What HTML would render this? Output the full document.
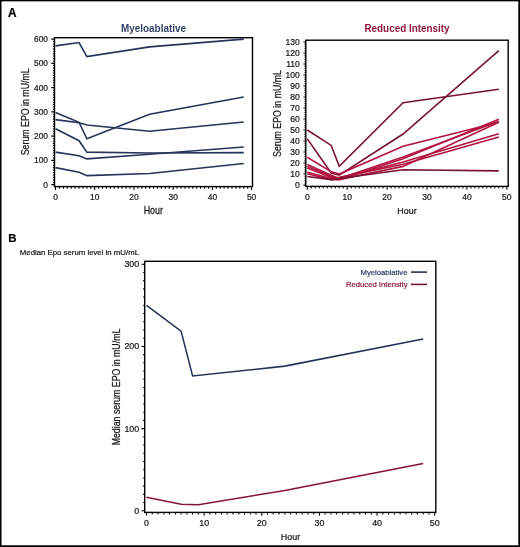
<!DOCTYPE html>
<html><head><meta charset="utf-8"><title>EPO</title>
<style>
html,body{margin:0;padding:0;background:#fff;}
body{width:520px;height:547px;overflow:hidden;}
svg{display:block;font-family:"Liberation Sans", sans-serif;will-change:transform;}
text{stroke-width:0.22px;}
</style></head>
<body>
<svg width="520" height="547" viewBox="0 0 520 547">
<rect width="520" height="547" fill="#fff"/>
<text transform="translate(8 16.8) scale(1 1.1)" font-size="11.8" font-weight="bold" fill="#000" stroke="#000" stroke-width="0.35">A</text>
<rect x="54.5" y="37.7" width="198" height="148.9" fill="none" stroke="#000" stroke-width="1.4"/>
<path d="M51.3 184.6H54.5M52.9 182.17H54.5M52.9 179.75H54.5M52.9 177.32H54.5M52.9 174.9H54.5M52.9 172.47H54.5M52.9 170.05H54.5M52.9 167.62H54.5M52.9 165.2H54.5M52.9 162.78H54.5M51.3 160.35H54.5M52.9 157.92H54.5M52.9 155.5H54.5M52.9 153.07H54.5M52.9 150.65H54.5M52.9 148.22H54.5M52.9 145.8H54.5M52.9 143.38H54.5M52.9 140.95H54.5M52.9 138.53H54.5M51.3 136.1H54.5M52.9 133.68H54.5M52.9 131.25H54.5M52.9 128.82H54.5M52.9 126.4H54.5M52.9 123.97H54.5M52.9 121.55H54.5M52.9 119.12H54.5M52.9 116.7H54.5M52.9 114.27H54.5M51.3 111.85H54.5M52.9 109.42H54.5M52.9 107H54.5M52.9 104.58H54.5M52.9 102.15H54.5M52.9 99.72H54.5M52.9 97.3H54.5M52.9 94.88H54.5M52.9 92.45H54.5M52.9 90.02H54.5M51.3 87.6H54.5M52.9 85.17H54.5M52.9 82.75H54.5M52.9 80.33H54.5M52.9 77.9H54.5M52.9 75.47H54.5M52.9 73.05H54.5M52.9 70.62H54.5M52.9 68.2H54.5M52.9 65.77H54.5M51.3 63.35H54.5M52.9 60.92H54.5M52.9 58.5H54.5M52.9 56.07H54.5M52.9 53.65H54.5M52.9 51.22H54.5M52.9 48.8H54.5M52.9 46.38H54.5M52.9 43.95H54.5M52.9 41.53H54.5M51.3 39.1H54.5M55.5 186.6V190M59.42 186.6V188.8M63.34 186.6V188.8M67.27 186.6V188.8M71.19 186.6V188.8M75.11 186.6V188.8M79.03 186.6V188.8M82.95 186.6V188.8M86.88 186.6V188.8M90.8 186.6V188.8M94.72 186.6V190M98.64 186.6V188.8M102.56 186.6V188.8M106.49 186.6V188.8M110.41 186.6V188.8M114.33 186.6V188.8M118.25 186.6V188.8M122.17 186.6V188.8M126.1 186.6V188.8M130.02 186.6V188.8M133.94 186.6V190M137.86 186.6V188.8M141.78 186.6V188.8M145.71 186.6V188.8M149.63 186.6V188.8M153.55 186.6V188.8M157.47 186.6V188.8M161.39 186.6V188.8M165.32 186.6V188.8M169.24 186.6V188.8M173.16 186.6V190M177.08 186.6V188.8M181 186.6V188.8M184.93 186.6V188.8M188.85 186.6V188.8M192.77 186.6V188.8M196.69 186.6V188.8M200.61 186.6V188.8M204.54 186.6V188.8M208.46 186.6V188.8M212.38 186.6V190M216.3 186.6V188.8M220.22 186.6V188.8M224.15 186.6V188.8M228.07 186.6V188.8M231.99 186.6V188.8M235.91 186.6V188.8M239.83 186.6V188.8M243.76 186.6V188.8M247.68 186.6V188.8M251.6 186.6V190" stroke="#000" stroke-width="1.05" fill="none"/>
<text transform="translate(48 187.62) scale(1 1)" text-anchor="end" font-size="8.4" fill="#1a1a1a" stroke="#1a1a1a">0</text>
<text transform="translate(48 163.37) scale(1 1)" text-anchor="end" font-size="8.4" fill="#1a1a1a" stroke="#1a1a1a">100</text>
<text transform="translate(48 139.12) scale(1 1)" text-anchor="end" font-size="8.4" fill="#1a1a1a" stroke="#1a1a1a">200</text>
<text transform="translate(48 114.87) scale(1 1)" text-anchor="end" font-size="8.4" fill="#1a1a1a" stroke="#1a1a1a">300</text>
<text transform="translate(48 90.62) scale(1 1)" text-anchor="end" font-size="8.4" fill="#1a1a1a" stroke="#1a1a1a">400</text>
<text transform="translate(48 66.37) scale(1 1)" text-anchor="end" font-size="8.4" fill="#1a1a1a" stroke="#1a1a1a">500</text>
<text transform="translate(48 42.12) scale(1 1)" text-anchor="end" font-size="8.4" fill="#1a1a1a" stroke="#1a1a1a">600</text>
<text transform="translate(55.5 200.4) scale(1 1)" text-anchor="middle" font-size="8.4" fill="#1a1a1a" stroke="#1a1a1a">0</text>
<text transform="translate(94.72 200.4) scale(1 1)" text-anchor="middle" font-size="8.4" fill="#1a1a1a" stroke="#1a1a1a">10</text>
<text transform="translate(133.94 200.4) scale(1 1)" text-anchor="middle" font-size="8.4" fill="#1a1a1a" stroke="#1a1a1a">20</text>
<text transform="translate(173.16 200.4) scale(1 1)" text-anchor="middle" font-size="8.4" fill="#1a1a1a" stroke="#1a1a1a">30</text>
<text transform="translate(212.38 200.4) scale(1 1)" text-anchor="middle" font-size="8.4" fill="#1a1a1a" stroke="#1a1a1a">40</text>
<text transform="translate(251.6 200.4) scale(1 1)" text-anchor="middle" font-size="8.4" fill="#1a1a1a" stroke="#1a1a1a">50</text>
<path d="M55.5 45.89 L79.03 42.5 L86.88 56.56 L149.63 46.86 L243.76 39.1" stroke="#26335a" stroke-width="1.6" fill="none" stroke-linejoin="miter" stroke-linecap="butt"/>
<path d="M55.5 112.58 L79.03 122.28 L86.88 138.77 L149.63 114.27 L243.76 97.06" stroke="#26335a" stroke-width="1.6" fill="none" stroke-linejoin="miter" stroke-linecap="butt"/>
<path d="M55.5 119.61 L79.03 122.76 L86.88 124.94 L149.63 131.25 L243.76 122.03" stroke="#26335a" stroke-width="1.6" fill="none" stroke-linejoin="miter" stroke-linecap="butt"/>
<path d="M55.5 128.82 L79.03 140.71 L86.88 152.1 L149.63 153.07 L243.76 152.59" stroke="#26335a" stroke-width="1.6" fill="none" stroke-linejoin="miter" stroke-linecap="butt"/>
<path d="M55.5 152.1 L79.03 155.74 L86.88 158.89 L149.63 154.29 L243.76 147.01" stroke="#26335a" stroke-width="1.6" fill="none" stroke-linejoin="miter" stroke-linecap="butt"/>
<path d="M55.5 167.62 L79.03 172.23 L86.88 175.63 L149.63 173.44 L243.76 163.5" stroke="#26335a" stroke-width="1.6" fill="none" stroke-linejoin="miter" stroke-linecap="butt"/>
<text transform="translate(153.5 31.5) scale(1 1.18)" text-anchor="middle" font-size="9.9" font-weight="bold" stroke="none" fill="#33416a">Myeloablative</text>
<text transform="translate(29.0 111.8) rotate(-90) scale(1 1.16)" text-anchor="middle" font-size="8.8" fill="#1a1a1a" stroke="#1a1a1a">Serum EPO in mU/mL</text>
<text transform="translate(153.3 213.7) scale(1 1.2)" text-anchor="middle" font-size="8.9" fill="#1a1a1a" stroke="#1a1a1a">Hour</text>
<rect x="305.8" y="40.2" width="202.4" height="146.2" fill="none" stroke="#000" stroke-width="1.4"/>
<path d="M303.4 185.1H305.8M304.5 182.9H305.8M304.5 180.69H305.8M304.5 178.49H305.8M304.5 176.29H305.8M303.4 174.08H305.8M304.5 171.88H305.8M304.5 169.68H305.8M304.5 167.48H305.8M304.5 165.27H305.8M303.4 163.07H305.8M304.5 160.87H305.8M304.5 158.66H305.8M304.5 156.46H305.8M304.5 154.26H305.8M303.4 152.05H305.8M304.5 149.85H305.8M304.5 147.65H305.8M304.5 145.44H305.8M304.5 143.24H305.8M303.4 141.04H305.8M304.5 138.84H305.8M304.5 136.63H305.8M304.5 134.43H305.8M304.5 132.23H305.8M303.4 130.02H305.8M304.5 127.82H305.8M304.5 125.62H305.8M304.5 123.41H305.8M304.5 121.21H305.8M303.4 119.01H305.8M304.5 116.8H305.8M304.5 114.6H305.8M304.5 112.4H305.8M304.5 110.2H305.8M303.4 107.99H305.8M304.5 105.79H305.8M304.5 103.59H305.8M304.5 101.38H305.8M304.5 99.18H305.8M303.4 96.98H305.8M304.5 94.77H305.8M304.5 92.57H305.8M304.5 90.37H305.8M304.5 88.16H305.8M303.4 85.96H305.8M304.5 83.76H305.8M304.5 81.56H305.8M304.5 79.35H305.8M304.5 77.15H305.8M303.4 74.95H305.8M304.5 72.74H305.8M304.5 70.54H305.8M304.5 68.34H305.8M304.5 66.13H305.8M303.4 63.93H305.8M304.5 61.73H305.8M304.5 59.52H305.8M304.5 57.32H305.8M304.5 55.12H305.8M303.4 52.92H305.8M304.5 50.71H305.8M304.5 48.51H305.8M304.5 46.31H305.8M304.5 44.1H305.8M303.4 41.9H305.8M307.3 186.4V189.8M311.29 186.4V188.6M315.28 186.4V188.6M319.27 186.4V188.6M323.26 186.4V188.6M327.25 186.4V188.6M331.24 186.4V188.6M335.23 186.4V188.6M339.22 186.4V188.6M343.21 186.4V188.6M347.2 186.4V189.8M351.19 186.4V188.6M355.18 186.4V188.6M359.17 186.4V188.6M363.16 186.4V188.6M367.15 186.4V188.6M371.14 186.4V188.6M375.13 186.4V188.6M379.12 186.4V188.6M383.11 186.4V188.6M387.1 186.4V189.8M391.09 186.4V188.6M395.08 186.4V188.6M399.07 186.4V188.6M403.06 186.4V188.6M407.05 186.4V188.6M411.04 186.4V188.6M415.03 186.4V188.6M419.02 186.4V188.6M423.01 186.4V188.6M427 186.4V189.8M430.99 186.4V188.6M434.98 186.4V188.6M438.97 186.4V188.6M442.96 186.4V188.6M446.95 186.4V188.6M450.94 186.4V188.6M454.93 186.4V188.6M458.92 186.4V188.6M462.91 186.4V188.6M466.9 186.4V189.8M470.89 186.4V188.6M474.88 186.4V188.6M478.87 186.4V188.6M482.86 186.4V188.6M486.85 186.4V188.6M490.84 186.4V188.6M494.83 186.4V188.6M498.82 186.4V188.6M502.81 186.4V188.6M506.8 186.4V189.8" stroke="#000" stroke-width="1.05" fill="none"/>
<text transform="translate(299.8 188.05) scale(1.04 1)" text-anchor="end" font-size="8.2" fill="#1a1a1a" stroke="#1a1a1a">0</text>
<text transform="translate(299.8 177.04) scale(1.04 1)" text-anchor="end" font-size="8.2" fill="#1a1a1a" stroke="#1a1a1a">10</text>
<text transform="translate(299.8 166.02) scale(1.04 1)" text-anchor="end" font-size="8.2" fill="#1a1a1a" stroke="#1a1a1a">20</text>
<text transform="translate(299.8 155.01) scale(1.04 1)" text-anchor="end" font-size="8.2" fill="#1a1a1a" stroke="#1a1a1a">30</text>
<text transform="translate(299.8 143.99) scale(1.04 1)" text-anchor="end" font-size="8.2" fill="#1a1a1a" stroke="#1a1a1a">40</text>
<text transform="translate(299.8 132.98) scale(1.04 1)" text-anchor="end" font-size="8.2" fill="#1a1a1a" stroke="#1a1a1a">50</text>
<text transform="translate(299.8 121.96) scale(1.04 1)" text-anchor="end" font-size="8.2" fill="#1a1a1a" stroke="#1a1a1a">60</text>
<text transform="translate(299.8 110.94) scale(1.04 1)" text-anchor="end" font-size="8.2" fill="#1a1a1a" stroke="#1a1a1a">70</text>
<text transform="translate(299.8 99.93) scale(1.04 1)" text-anchor="end" font-size="8.2" fill="#1a1a1a" stroke="#1a1a1a">80</text>
<text transform="translate(299.8 88.91) scale(1.04 1)" text-anchor="end" font-size="8.2" fill="#1a1a1a" stroke="#1a1a1a">90</text>
<text transform="translate(299.8 77.9) scale(1.04 1)" text-anchor="end" font-size="8.2" fill="#1a1a1a" stroke="#1a1a1a">100</text>
<text transform="translate(299.8 66.88) scale(1.04 1)" text-anchor="end" font-size="8.2" fill="#1a1a1a" stroke="#1a1a1a">110</text>
<text transform="translate(299.8 55.87) scale(1.04 1)" text-anchor="end" font-size="8.2" fill="#1a1a1a" stroke="#1a1a1a">120</text>
<text transform="translate(299.8 44.85) scale(1.04 1)" text-anchor="end" font-size="8.2" fill="#1a1a1a" stroke="#1a1a1a">130</text>
<text transform="translate(307.3 199.8) scale(1.04 1)" text-anchor="middle" font-size="8.2" fill="#1a1a1a" stroke="#1a1a1a">0</text>
<text transform="translate(347.2 199.8) scale(1.04 1)" text-anchor="middle" font-size="8.2" fill="#1a1a1a" stroke="#1a1a1a">10</text>
<text transform="translate(387.1 199.8) scale(1.04 1)" text-anchor="middle" font-size="8.2" fill="#1a1a1a" stroke="#1a1a1a">20</text>
<text transform="translate(427 199.8) scale(1.04 1)" text-anchor="middle" font-size="8.2" fill="#1a1a1a" stroke="#1a1a1a">30</text>
<text transform="translate(466.9 199.8) scale(1.04 1)" text-anchor="middle" font-size="8.2" fill="#1a1a1a" stroke="#1a1a1a">40</text>
<text transform="translate(506.8 199.8) scale(1.04 1)" text-anchor="middle" font-size="8.2" fill="#1a1a1a" stroke="#1a1a1a">50</text>
<path d="M307.3 130.02 L331.24 145.44 L339.22 166.37 L403.06 102.7 L498.82 89.27" stroke="#761332" stroke-width="1.6" fill="none" stroke-linejoin="miter" stroke-linecap="butt"/>
<path d="M307.3 138.84 L331.24 172.98 L339.22 175.19 L403.06 133.99 L498.82 50.71" stroke="#761332" stroke-width="1.6" fill="none" stroke-linejoin="miter" stroke-linecap="butt"/>
<path d="M307.3 157.23 L331.24 171.88 L339.22 174.08 L403.06 146.33 L498.82 122.31" stroke="#b3123f" stroke-width="1.6" fill="none" stroke-linejoin="miter" stroke-linecap="butt"/>
<path d="M307.3 164.5 L331.24 175.19 L339.22 178.49 L403.06 157.01 L498.82 121.21" stroke="#b3123f" stroke-width="1.6" fill="none" stroke-linejoin="miter" stroke-linecap="butt"/>
<path d="M307.3 166.37 L331.24 176.29 L339.22 179.59 L403.06 158.66 L498.82 119.23" stroke="#b3123f" stroke-width="1.6" fill="none" stroke-linejoin="miter" stroke-linecap="butt"/>
<path d="M307.3 167.92 L331.24 177.39 L339.22 178.49 L403.06 161.97 L498.82 133.66" stroke="#b3123f" stroke-width="1.6" fill="none" stroke-linejoin="miter" stroke-linecap="butt"/>
<path d="M307.3 172.21 L331.24 178.49 L339.22 177.39 L403.06 164.17 L498.82 136.96" stroke="#b3123f" stroke-width="1.6" fill="none" stroke-linejoin="miter" stroke-linecap="butt"/>
<path d="M307.3 173.75 L331.24 179.59 L339.22 179.59 L403.06 166.37 L498.82 122.31" stroke="#b3123f" stroke-width="1.6" fill="none" stroke-linejoin="miter" stroke-linecap="butt"/>
<path d="M307.3 176.51 L331.24 179.59 L339.22 178.49 L403.06 169.68 L498.82 170.89" stroke="#761332" stroke-width="1.6" fill="none" stroke-linejoin="miter" stroke-linecap="butt"/>
<text transform="translate(407 31.6) scale(1 1.18)" text-anchor="middle" font-size="9.9" font-weight="bold" stroke="none" fill="#8e1a40">Reduced Intensity</text>
<text transform="translate(280.6 113.5) rotate(-90) scale(1 1.16)" text-anchor="middle" font-size="8.8" fill="#1a1a1a" stroke="#1a1a1a">Serum EPO in mU/mL</text>
<text transform="translate(407 213.7) scale(1 1.12)" text-anchor="middle" font-size="8.9" fill="#1a1a1a" stroke="#1a1a1a">Hour</text>
<text transform="translate(8.3 242.3) scale(1 1.02)" font-size="11.4" font-weight="bold" fill="#000" stroke="#000" stroke-width="0.35">B</text>
<text x="19.8" y="255.3" font-size="7.8" fill="#1a1a1a" stroke="#1a1a1a">Median Epo serum level in mU/mL</text>
<rect x="144.7" y="261.3" width="291.1" height="251.1" fill="none" stroke="#000" stroke-width="1.4"/>
<path d="M141.5 510.8H144.7M143.1 502.58H144.7M143.1 494.36H144.7M143.1 486.14H144.7M143.1 477.92H144.7M143.1 469.7H144.7M143.1 461.48H144.7M143.1 453.26H144.7M143.1 445.04H144.7M143.1 436.82H144.7M141.5 428.6H144.7M143.1 420.38H144.7M143.1 412.16H144.7M143.1 403.94H144.7M143.1 395.72H144.7M143.1 387.5H144.7M143.1 379.28H144.7M143.1 371.06H144.7M143.1 362.84H144.7M143.1 354.62H144.7M141.5 346.4H144.7M143.1 338.18H144.7M143.1 329.96H144.7M143.1 321.74H144.7M143.1 313.52H144.7M143.1 305.3H144.7M143.1 297.08H144.7M143.1 288.86H144.7M143.1 280.64H144.7M143.1 272.42H144.7M141.5 264.2H144.7M146.5 512.4V515.8M152.26 512.4V514.6M158.03 512.4V514.6M163.79 512.4V514.6M169.56 512.4V514.6M175.32 512.4V514.6M181.08 512.4V514.6M186.85 512.4V514.6M192.61 512.4V514.6M198.38 512.4V514.6M204.14 512.4V515.8M209.9 512.4V514.6M215.67 512.4V514.6M221.43 512.4V514.6M227.2 512.4V514.6M232.96 512.4V514.6M238.72 512.4V514.6M244.49 512.4V514.6M250.25 512.4V514.6M256.02 512.4V514.6M261.78 512.4V515.8M267.54 512.4V514.6M273.31 512.4V514.6M279.07 512.4V514.6M284.84 512.4V514.6M290.6 512.4V514.6M296.36 512.4V514.6M302.13 512.4V514.6M307.89 512.4V514.6M313.66 512.4V514.6M319.42 512.4V515.8M325.18 512.4V514.6M330.95 512.4V514.6M336.71 512.4V514.6M342.48 512.4V514.6M348.24 512.4V514.6M354 512.4V514.6M359.77 512.4V514.6M365.53 512.4V514.6M371.3 512.4V514.6M377.06 512.4V515.8M382.82 512.4V514.6M388.59 512.4V514.6M394.35 512.4V514.6M400.12 512.4V514.6M405.88 512.4V514.6M411.64 512.4V514.6M417.41 512.4V514.6M423.17 512.4V514.6M428.94 512.4V514.6M434.7 512.4V515.8" stroke="#000" stroke-width="1.05" fill="none"/>
<text transform="translate(139.2 513.75) scale(1.08 1)" text-anchor="end" font-size="8.2" fill="#1a1a1a" stroke="#1a1a1a">0</text>
<text transform="translate(139.2 431.55) scale(1.08 1)" text-anchor="end" font-size="8.2" fill="#1a1a1a" stroke="#1a1a1a">100</text>
<text transform="translate(139.2 349.35) scale(1.08 1)" text-anchor="end" font-size="8.2" fill="#1a1a1a" stroke="#1a1a1a">200</text>
<text transform="translate(139.2 267.15) scale(1.08 1)" text-anchor="end" font-size="8.2" fill="#1a1a1a" stroke="#1a1a1a">300</text>
<text transform="translate(146.5 526.4) scale(1.08 1)" text-anchor="middle" font-size="8.2" fill="#1a1a1a" stroke="#1a1a1a">0</text>
<text transform="translate(204.14 526.4) scale(1.08 1)" text-anchor="middle" font-size="8.2" fill="#1a1a1a" stroke="#1a1a1a">10</text>
<text transform="translate(261.78 526.4) scale(1.08 1)" text-anchor="middle" font-size="8.2" fill="#1a1a1a" stroke="#1a1a1a">20</text>
<text transform="translate(319.42 526.4) scale(1.08 1)" text-anchor="middle" font-size="8.2" fill="#1a1a1a" stroke="#1a1a1a">30</text>
<text transform="translate(377.06 526.4) scale(1.08 1)" text-anchor="middle" font-size="8.2" fill="#1a1a1a" stroke="#1a1a1a">40</text>
<text transform="translate(434.7 526.4) scale(1.08 1)" text-anchor="middle" font-size="8.2" fill="#1a1a1a" stroke="#1a1a1a">50</text>
<path d="M146.5 305.3 L181.08 331.11 L192.61 375.99 L284.84 366.13 L423.17 339" stroke="#26335a" stroke-width="1.55" fill="none" stroke-linejoin="miter" stroke-linecap="butt"/>
<path d="M146.5 497.32 L181.08 504.22 L198.38 504.8 L284.84 490.41 L423.17 463.45" stroke="#841537" stroke-width="1.55" fill="none" stroke-linejoin="miter" stroke-linecap="butt"/>
<text x="407.5" y="274.7" text-anchor="end" font-size="7.7" fill="#33416a" stroke="#33416a">Myeloablative</text>
<text x="407.5" y="286.7" text-anchor="end" font-size="7.7" fill="#8e1a40" stroke="#8e1a40">Reduced Intensity</text>
<path d="M411 272.1H427" stroke="#26335a" stroke-width="1.6"/>
<path d="M411 284.4H427" stroke="#761332" stroke-width="1.6"/>
<text transform="translate(119.6 387) rotate(-90) scale(1 1.16)" text-anchor="middle" font-size="8.8" fill="#1a1a1a" stroke="#1a1a1a">Median serum EPO in mU/mL</text>
<text transform="translate(290.5 540.1) scale(1 1.1)" text-anchor="middle" font-size="8.9" fill="#1a1a1a" stroke="#1a1a1a">Hour</text>
<rect x="0" y="0" width="520" height="1.35" fill="#000"/>
<rect x="0" y="0" width="1.5" height="547" fill="#000"/>
<rect x="518.3" y="0" width="1.7" height="547" fill="#000"/>
<rect x="0" y="545.3" width="520" height="1.7" fill="#000"/>
</svg>
</body></html>
